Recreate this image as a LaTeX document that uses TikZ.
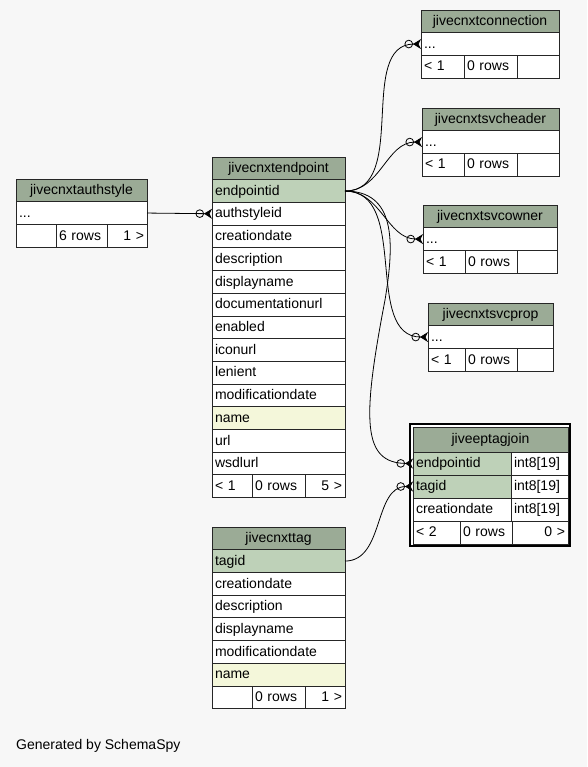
\documentclass[tikz,border=0pt]{standalone}
\usepackage{fontspec}
\setmainfont{Liberation Sans}
\usepackage{xcolor}
\usepackage{tikz}
\usetikzlibrary{arrows.meta,positioning}

\definecolor{bgpaper}{HTML}{F7F7F7}
\definecolor{hdrgreen}{HTML}{9BAB96}
\definecolor{keygreen}{HTML}{BED1B8}
\definecolor{nameyellow}{HTML}{F4F7DA}
\newcommand{\tblfont}{\fontsize{14}{16}\selectfont}

\begin{document}
\begin{tikzpicture}[x=1pt, y=-1pt,
    cell/.style={draw=black!85, line width=0.8pt, fill=white, outer sep=0pt, inner xsep=3pt, inner ysep=0pt, minimum height=22.7pt, text height=11pt, text depth=2.5pt, align=left, font=\tblfont, anchor=north west},
    hdr/.style={cell, fill=hdrgreen, align=center},
    keyrow/.style={cell, fill=keygreen},
    namerow/.style={cell, fill=nameyellow},
    foot/.style={cell, text width=#1},
    footr/.style={foot=#1, align=right},
    crow/.style={line width=0.8pt, -{Circle[open, length=8.5pt, width=8.5pt] Stealth[reversed, length=8pt, width=10pt, inset=2.5pt]}}
]
\fill[bgpaper] (0,0) rectangle (587,767);

\begin{scope}[cell/.append style={text width=125pt}]
\node[hdr] (authhdr) at (16,179) {jivecnxtauthstyle};
\node[cell, below=0pt of authhdr] (authdots) {...};
\node[foot=34pt, below=0pt of authdots.south west, anchor=north west] (authf1) {};
\node[foot=45pt, right=0pt of authf1] (authf2) {6 rows};
\node[footr=34pt, right=0pt of authf2] (authf3) {1 >};
\end{scope}

\begin{scope}[cell/.append style={text width=127pt}]
\node[hdr] (ephdr) at (212,157) {jivecnxtendpoint};
\node[keyrow, below=0pt of ephdr] (epid) {endpointid};
\node[cell, below=0pt of epid] (epauth) {authstyleid};
\node[cell, below=0pt of epauth] (epcreated) {creationdate};
\node[cell, below=0pt of epcreated] (epdesc) {description};
\node[cell, below=0pt of epdesc] (epdisplay) {displayname};
\node[cell, below=0pt of epdisplay] (epdocurl) {documentationurl};
\node[cell, below=0pt of epdocurl] (epenabled) {enabled};
\node[cell, below=0pt of epenabled] (epicon) {iconurl};
\node[cell, below=0pt of epicon] (eplenient) {lenient};
\node[cell, below=0pt of eplenient] (epmodified) {modificationdate};
\node[namerow, below=0pt of epmodified] (epname) {name};
\node[cell, below=0pt of epname] (epurl) {url};
\node[cell, below=0pt of epurl] (epwsdl) {wsdlurl};
\node[foot=34pt, below=0pt of epwsdl.south west, anchor=north west] (epf1) {< 1};
\node[foot=47pt, right=0pt of epf1] (epf2) {0 rows};
\node[footr=34pt, right=0pt of epf2] (epf3) {5 >};

\node[hdr] (taghdr) at (212,527) {jivecnxttag};
\node[keyrow, below=0pt of taghdr] (tagid) {tagid};
\node[cell, below=0pt of tagid] (tagcreated) {creationdate};
\node[cell, below=0pt of tagcreated] (tagdesc) {description};
\node[cell, below=0pt of tagdesc] (tagdisplay) {displayname};
\node[cell, below=0pt of tagdisplay] (tagmodified) {modificationdate};
\node[namerow, below=0pt of tagmodified] (tagname) {name};
\node[foot=34pt, below=0pt of tagname.south west, anchor=north west] (tagf1) {};
\node[foot=47pt, right=0pt of tagf1] (tagf2) {0 rows};
\node[footr=34pt, right=0pt of tagf2] (tagf3) {1 >};
\end{scope}

\begin{scope}[cell/.append style={text width=132pt}]
\node[hdr] (connhdr) at (421,10) {jivecnxtconnection};
\node[cell, below=0pt of connhdr] (conndots) {...};
\node[foot=37pt, below=0pt of conndots.south west, anchor=north west] (connf1) {< 1};
\node[foot=47pt, right=0pt of connf1] (connf2) {0 rows};
\node[foot=36pt, right=0pt of connf2] (connf3) {};
\end{scope}

\begin{scope}[cell/.append style={text width=131pt}]
\node[hdr] (svchhdr) at (422,108) {jivecnxtsvcheader};
\node[cell, below=0pt of svchhdr] (svchdots) {...};
\node[foot=36pt, below=0pt of svchdots.south west, anchor=north west] (svchf1) {< 1};
\node[foot=47pt, right=0pt of svchf1] (svchf2) {0 rows};
\node[foot=36pt, right=0pt of svchf2] (svchf3) {};
\end{scope}

\begin{scope}[cell/.append style={text width=128pt}]
\node[hdr] (svcohdr) at (423,205) {jivecnxtsvcowner};
\node[cell, below=0pt of svcohdr] (svcodots) {...};
\node[foot=36pt, below=0pt of svcodots.south west, anchor=north west] (svcof1) {< 1};
\node[foot=46pt, right=0pt of svcof1] (svcof2) {0 rows};
\node[foot=34pt, right=0pt of svcof2] (svcof3) {};
\end{scope}

\begin{scope}[cell/.append style={text width=119pt}]
\node[hdr] (svcphdr) at (428,303) {jivecnxtsvcprop};
\node[cell, below=0pt of svcphdr] (svcpdots) {...};
\node[foot=31pt, below=0pt of svcpdots.south west, anchor=north west] (svcpf1) {< 1};
\node[foot=46pt, right=0pt of svcpf1] (svcpf2) {0 rows};
\node[foot=30pt, right=0pt of svcpf2] (svcpf3) {};
\end{scope}

\node[draw, line width=2pt, fill=white, outer sep=0pt, minimum width=160pt, minimum height=122pt, anchor=north west] (tjframe) at (410,424) {};
\begin{scope}[cell/.append style={minimum height=23pt}]
\node[hdr, text width=149pt, minimum height=25pt] (tjhdr) at (413,427) {jiveeptagjoin};
\node[keyrow, text width=92pt, below=0pt of tjhdr.south west, anchor=north west] (tjeid) {endpointid};
\node[cell, text width=51pt, right=0pt of tjeid] (tjeidtype) {int8[19]};
\node[keyrow, text width=92pt, below=0pt of tjeid.south west, anchor=north west] (tjtag) {tagid};
\node[cell, text width=51pt, right=0pt of tjtag] (tjtagtype) {int8[19]};
\node[cell, text width=92pt, below=0pt of tjtag.south west, anchor=north west] (tjcreated) {creationdate};
\node[cell, text width=51pt, right=0pt of tjcreated] (tjcreatedtype) {int8[19]};
\node[foot=41pt, below=0pt of tjcreated.south west, anchor=north west] (tjf1) {< 2};
\node[foot=46pt, right=0pt of tjf1] (tjf2) {0 rows};
\node[footr=50pt, right=0pt of tjf2] (tjf3) {0 >};
\end{scope}

\draw[crow] (authdots.east) -- (epauth.west);
\draw[crow] (epid.east) to[out=0, in=180] (conndots.west);
\draw[crow] (epid.east) to[out=0, in=180] (svchdots.west);
\draw[crow] (epid.east) to[out=0, in=180] (svcodots.west);
\draw[crow] (epid.east) to[out=0, in=180] (svcpdots.west);
\draw[crow] (epid.east) .. controls (395,191) and (395,240) .. (385,300) .. controls (362,420) and (362,463) .. (tjeid.west);
\draw[crow] (tagid.east) to[out=0, in=180] (tjtag.west);

\node[font=\tblfont, anchor=base west, inner sep=0pt] (credit) at (16,749) {Generated by SchemaSpy};
\end{tikzpicture}
\end{document}
